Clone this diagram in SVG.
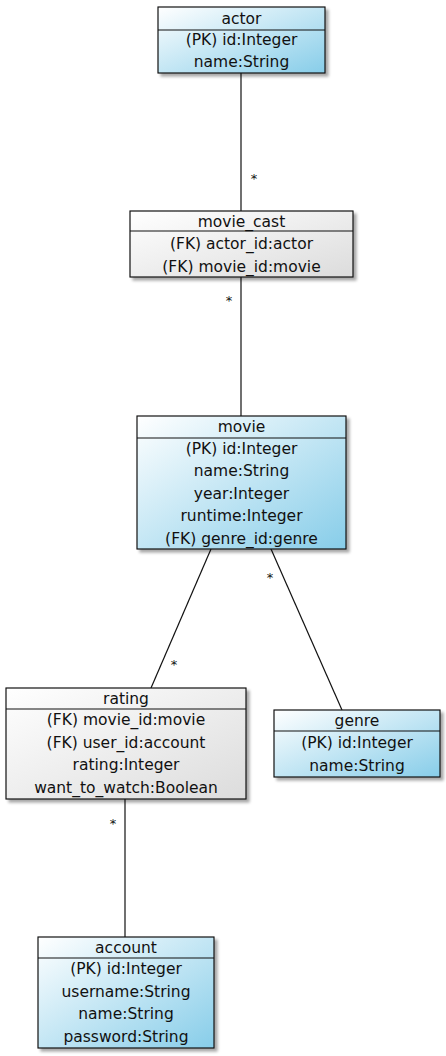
<svg xmlns="http://www.w3.org/2000/svg" width="446" height="1056" viewBox="0 0 446 1056">
<defs>
<linearGradient id="blue" x1="0" y1="0" x2="1" y2="1">
<stop offset="0" stop-color="#ffffff"/>
<stop offset="1" stop-color="#87cde9"/>
</linearGradient>
<linearGradient id="gray" x1="0" y1="0" x2="1" y2="1">
<stop offset="0" stop-color="#ffffff"/>
<stop offset="1" stop-color="#dcdcdc"/>
</linearGradient>
<filter id="sh" x="-10%" y="-10%" width="130%" height="130%">
<feGaussianBlur in="SourceAlpha" stdDeviation="1.5"/>
<feOffset dx="3" dy="3" result="b"/>
<feComponentTransfer><feFuncA type="linear" slope="0.35"/></feComponentTransfer>
<feMerge><feMergeNode/><feMergeNode in="SourceGraphic"/></feMerge>
</filter>
</defs>
<style>
text{font-family:"DejaVu Sans",Verdana,sans-serif;font-size:15.5px;fill:#111;text-anchor:middle}
.star{font-size:13px}
.box{stroke:#111;stroke-width:1.2}
.div{stroke:#111;stroke-width:1.2}
.edge{stroke:#111;stroke-width:1.2;fill:none}
</style>
<g id="connectors">
<line class="edge" x1="241" y1="73" x2="241" y2="211"/>
<line class="edge" x1="241" y1="277" x2="241" y2="416"/>
<line class="edge" x1="211" y1="549" x2="151" y2="688"/>
<line class="edge" x1="271" y1="549" x2="342" y2="710"/>
<line class="edge" x1="125" y1="799" x2="125" y2="937"/>
<text class="star" x="254" y="183">*</text>
<text class="star" x="229" y="305">*</text>
<text class="star" x="174" y="669">*</text>
<text class="star" x="270" y="582">*</text>
<text class="star" x="113" y="828">*</text>
</g>
<g id="actor">
<rect class="box" x="158" y="7" width="167" height="66" fill="url(#blue)" filter="url(#sh)"/>
<line class="div" x1="158" y1="30" x2="325" y2="30"/>
<text x="241.5" y="24">actor</text>
<text x="241.5" y="45">(PK) id:Integer</text>
<text x="241.5" y="67">name:String</text>
</g>
<g id="movie_cast">
<rect class="box" x="130" y="211" width="223" height="66" fill="url(#gray)" filter="url(#sh)"/>
<line class="div" x1="130" y1="231" x2="353" y2="231"/>
<text x="241.5" y="227">movie_cast</text>
<text x="241.5" y="249">(FK) actor_id:actor</text>
<text x="241.5" y="272">(FK) movie_id:movie</text>
</g>
<g id="movie">
<rect class="box" x="137" y="416" width="209" height="133" fill="url(#blue)" filter="url(#sh)"/>
<line class="div" x1="137" y1="438" x2="346" y2="438"/>
<text x="241.5" y="432">movie</text>
<text x="241.5" y="454">(PK) id:Integer</text>
<text x="241.5" y="476">name:String</text>
<text x="241.5" y="499">year:Integer</text>
<text x="241.5" y="521">runtime:Integer</text>
<text x="241.5" y="544">(FK) genre_id:genre</text>
</g>
<g id="rating">
<rect class="box" x="6" y="688" width="240" height="111" fill="url(#gray)" filter="url(#sh)"/>
<line class="div" x1="6" y1="709" x2="246" y2="709"/>
<text x="126" y="704">rating</text>
<text x="126" y="725">(FK) movie_id:movie</text>
<text x="126" y="748">(FK) user_id:account</text>
<text x="126" y="770">rating:Integer</text>
<text x="126" y="793">want_to_watch:Boolean</text>
</g>
<g id="genre">
<rect class="box" x="274" y="710" width="166" height="67" fill="url(#blue)" filter="url(#sh)"/>
<line class="div" x1="274" y1="731" x2="440" y2="731"/>
<text x="357" y="726">genre</text>
<text x="357" y="748">(PK) id:Integer</text>
<text x="357" y="771">name:String</text>
</g>
<g id="account">
<rect class="box" x="38" y="937" width="176" height="111" fill="url(#blue)" filter="url(#sh)"/>
<line class="div" x1="38" y1="958" x2="214" y2="958"/>
<text x="126" y="953">account</text>
<text x="126" y="974">(PK) id:Integer</text>
<text x="126" y="997">username:String</text>
<text x="126" y="1019">name:String</text>
<text x="126" y="1042">password:String</text>
</g>
</svg>
